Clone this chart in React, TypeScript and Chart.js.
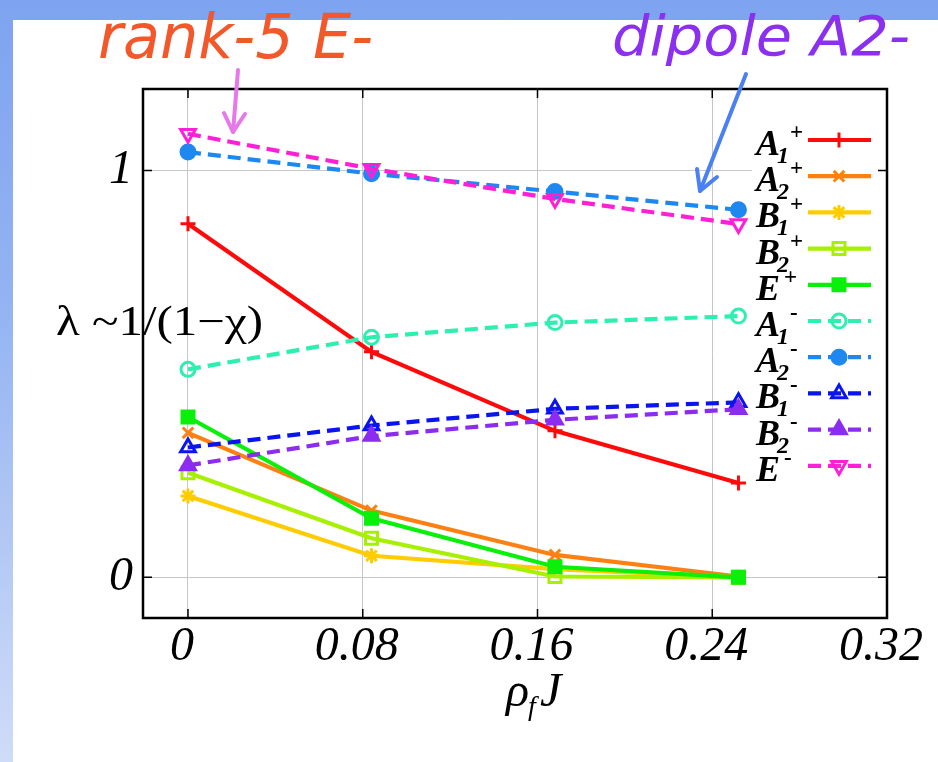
import React, { useEffect, useRef } from "react";
import { Chart, registerables } from "chart.js";
import { drawPoint } from "chart.js/helpers";

Chart.register(...registerables);

// Coupling values ρ_f J at which the spectra were computed
const X_VALUES = [0, 0.084, 0.168, 0.252];

// Leading eigenvalue of each channel
const A1_PLUS = [0.869, 0.554, 0.36, 0.232];
const A2_PLUS = [0.355, 0.164, 0.055, 0.002];
const B1_PLUS = [0.2, 0.053, 0.02, 0];
const B2_PLUS = [0.257, 0.096, 0.002, 0];
const E_PLUS = [0.394, 0.145, 0.026, 0];
const A1_MINUS = [0.511, 0.59, 0.626, 0.642];
const A2_MINUS = [1.045, 0.992, 0.948, 0.903];
const B1_MINUS = [0.319, 0.373, 0.414, 0.43];
const B2_MINUS = [0.275, 0.347, 0.387, 0.413];
const E_MINUS = [1.09, 1.004, 0.93, 0.868];

const X_TICKS = [0, 0.08, 0.16, 0.24, 0.32];
const X_TICK_LABELS = ["0", "0.08", "0.16", "0.24", "0.32"];
const Y_TICKS = [0, 1];
const Y_TICK_LABELS = ["0", "1"];

const X_MIN = -0.0206;
const X_MAX = 0.32;
const Y_MIN = -0.1;
const Y_MAX = 1.2;

type Series = {
  base: string;
  sub: string;
  sup: string;
  values: number[];
  color: string;
  style: string;
  filled: boolean;
  dashed: boolean;
  rotation: number;
  radius: number;
};

const SERIES: Series[] = [
  { base: "A", sub: "1", sup: "+", values: A1_PLUS, color: "#ff0a0a", style: "cross", filled: false, dashed: false, rotation: 0, radius: 7.5 },
  { base: "A", sub: "2", sup: "+", values: A2_PLUS, color: "#ff8012", style: "crossRot", filled: false, dashed: false, rotation: 0, radius: 7.5 },
  { base: "B", sub: "1", sup: "+", values: B1_PLUS, color: "#ffcc00", style: "star", filled: false, dashed: false, rotation: 0, radius: 7.5 },
  { base: "B", sub: "2", sup: "+", values: B2_PLUS, color: "#a6f000", style: "rect", filled: false, dashed: false, rotation: 0, radius: 8.5 },
  { base: "E", sub: "", sup: "+", values: E_PLUS, color: "#0af00a", style: "rect", filled: true, dashed: false, rotation: 0, radius: 8.5 },
  { base: "A", sub: "1", sup: "-", values: A1_MINUS, color: "#2cf0b0", style: "circle", filled: false, dashed: true, rotation: 0, radius: 7 },
  { base: "A", sub: "2", sup: "-", values: A2_MINUS, color: "#1e88f0", style: "circle", filled: true, dashed: true, rotation: 0, radius: 7 },
  { base: "B", sub: "1", sup: "-", values: B1_MINUS, color: "#0a14f0", style: "triangle", filled: false, dashed: true, rotation: 0, radius: 8.5 },
  { base: "B", sub: "2", sup: "-", values: B2_MINUS, color: "#8c2cf0", style: "triangle", filled: true, dashed: true, rotation: 0, radius: 8.5 },
  { base: "E", sub: "", sup: "-", values: E_MINUS, color: "#ff1fd6", style: "triangle", filled: false, dashed: true, rotation: 180, radius: 8.5 },
];

const LINE_WIDTH = 4.2;
const POINT_WIDTH = 3;
const DASH = [13, 7];
const SERIF = '"Liberation Serif", "Times New Roman", serif';
const HAND = '"DejaVu Sans", sans-serif';

function drawLegendLabel(ctx: CanvasRenderingContext2D, s: Series, x: number, baseline: number) {
  ctx.fillStyle = "#000";
  ctx.textAlign = "left";
  ctx.textBaseline = "alphabetic";
  ctx.font = `italic bold 36px ${SERIF}`;
  ctx.fillText(s.base, x, baseline);
  const w = ctx.measureText(s.base).width;
  if (s.sub) {
    ctx.font = `italic bold 24px ${SERIF}`;
    ctx.fillText(s.sub, x + w - 3, baseline + 8);
  }
  ctx.font = `bold 23px ${SERIF}`;
  ctx.fillText(s.sup, x + w + (s.sub ? 10 : 4), baseline - 16);
}

function fitText(ctx: CanvasRenderingContext2D, text: string, x: number, baseline: number, width: number) {
  const m = ctx.measureText(text).width;
  ctx.save();
  ctx.translate(x, baseline);
  ctx.scale(width / m, 1);
  ctx.fillText(text, 0, 0);
  ctx.restore();
}

function arrow(ctx: CanvasRenderingContext2D, color: string, pts: number[][], wings: number[][]) {
  ctx.save();
  ctx.strokeStyle = color;
  ctx.lineWidth = 4;
  ctx.lineCap = "round";
  ctx.lineJoin = "round";
  ctx.setLineDash([]);
  ctx.beginPath();
  ctx.moveTo(pts[0][0], pts[0][1]);
  ctx.lineTo(pts[1][0], pts[1][1]);
  ctx.stroke();
  ctx.beginPath();
  ctx.moveTo(wings[0][0], wings[0][1]);
  ctx.lineTo(pts[1][0], pts[1][1]);
  ctx.lineTo(wings[1][0], wings[1][1]);
  ctx.stroke();
  ctx.restore();
}

const decorations = {
  id: "decorations",
  afterDraw(chart: Chart) {
    const ctx = chart.ctx;
    const { left, right, top, bottom } = chart.chartArea;
    const xs = chart.scales.x;
    const ys = chart.scales.y;
    ctx.save();
    ctx.setLineDash([]);

    // opaque key box
    ctx.fillStyle = "#fff";
    ctx.fillRect(752, 122, 126, 362);

    // inward tick marks
    ctx.strokeStyle = "#000";
    ctx.lineWidth = 1.5;
    ctx.beginPath();
    X_TICKS.forEach((v) => {
      const px = xs.getPixelForValue(v);
      ctx.moveTo(px, top);
      ctx.lineTo(px, top + 9);
      ctx.moveTo(px, bottom);
      ctx.lineTo(px, bottom - 9);
    });
    Y_TICKS.forEach((v) => {
      const py = ys.getPixelForValue(v);
      ctx.moveTo(left, py);
      ctx.lineTo(left + 9, py);
      ctx.moveTo(right, py);
      ctx.lineTo(right - 9, py);
    });
    ctx.stroke();

    // frame
    ctx.lineWidth = 2.5;
    ctx.strokeRect(left, top, right - left, bottom - top);

    // key
    const keyTop = 140;
    const keyStep = 36.2;
    SERIES.forEach((s, i) => {
      const y = keyTop + i * keyStep;
      ctx.save();
      ctx.strokeStyle = s.color;
      ctx.lineWidth = LINE_WIDTH;
      ctx.setLineDash(s.dashed ? DASH : []);
      ctx.beginPath();
      ctx.moveTo(808, y);
      ctx.lineTo(871, y);
      ctx.stroke();
      ctx.setLineDash([]);
      ctx.lineWidth = POINT_WIDTH;
      ctx.fillStyle = s.filled ? s.color : "rgba(0,0,0,0)";
      drawPoint(ctx, { pointStyle: s.style as any, rotation: s.rotation, radius: s.radius, borderWidth: POINT_WIDTH }, 839, y);
      ctx.restore();
      drawLegendLabel(ctx, s, 756, y + 15);
    });

    // y quantity label
    ctx.fillStyle = "#000";
    ctx.font = `42px ${SERIF}`;
    ctx.textBaseline = "alphabetic";
    fitText(ctx, "\u03BB ~1/(1\u2212\u03C7)", 56, 335, 207);

    // x quantity label
    ctx.font = `italic 48px ${SERIF}`;
    const rho = "\u03C1";
    const rw = ctx.measureText(rho).width;
    ctx.fillText(rho, 506, 706);
    ctx.font = `italic 28px ${SERIF}`;
    ctx.fillText("f", 506 + rw - 1, 715);
    ctx.font = `italic 48px ${SERIF}`;
    ctx.fillText("J", 506 + rw + 11, 706);

    // annotations
    ctx.font = `oblique 62px ${HAND}`;
    ctx.fillStyle = "#f2582a";
    fitText(ctx, "rank-5 E-", 98, 58, 275);
    ctx.font = `oblique 56px ${HAND}`;
    ctx.fillStyle = "#8b2ff0";
    fitText(ctx, "dipole A2-", 612, 55, 298);

    arrow(ctx, "#e678ea", [[238, 70], [233, 132]], [[224, 113], [245, 114]]);
    arrow(ctx, "#4a80f2", [[746, 74], [700, 191]], [[697, 169], [717, 177]]);

    ctx.restore();
  },
};

export default function App() {
  const ref = useRef<HTMLCanvasElement>(null);

  useEffect(() => {
    const canvas = ref.current;
    if (!canvas) return;
    const chart = new Chart(canvas, {
      type: "line",
      data: {
        datasets: SERIES.map((s, i) => ({
          label: s.base + s.sub + s.sup,
          data: X_VALUES.map((x, j) => ({ x, y: s.values[j] })),
          borderColor: s.color,
          borderWidth: LINE_WIDTH,
          borderDash: s.dashed ? DASH : [],
          tension: 0,
          fill: false,
          pointStyle: s.style as any,
          pointRadius: s.radius,
          pointRotation: s.rotation,
          pointBorderWidth: POINT_WIDTH,
          pointBorderColor: s.color,
          pointBackgroundColor: s.filled ? s.color : "rgba(0,0,0,0)",
          order: SERIES.length - i,
          clip: false as any,
        })),
      },
      options: {
        animation: false,
        responsive: false,
        layout: { padding: { left: 0, right: 51, top: 89, bottom: 0 } },
        plugins: { legend: { display: false }, tooltip: { enabled: false } },
        scales: {
          x: {
            type: "linear",
            min: X_MIN,
            max: X_MAX,
            afterBuildTicks: (s: any) => {
              s.ticks = X_TICKS.map((v) => ({ value: v }));
            },
            afterFit: (s: any) => {
              s.height = 144;
            },
            grid: { color: "#c6c6c6", lineWidth: 1, drawTicks: false },
            border: { display: false },
            ticks: {
              callback: (v: any) => X_TICK_LABELS[X_TICKS.indexOf(Number(v))],
              font: { family: SERIF, style: "italic", size: 48 },
              color: "#000",
              padding: 1,
              labelOffset: -6,
              maxRotation: 0,
              autoSkip: false,
            },
          },
          y: {
            type: "linear",
            min: Y_MIN,
            max: Y_MAX,
            afterBuildTicks: (s: any) => {
              s.ticks = Y_TICKS.map((v) => ({ value: v }));
            },
            afterFit: (s: any) => {
              s.width = 143;
            },
            grid: { color: "#c6c6c6", lineWidth: 1, drawTicks: false },
            border: { display: false },
            ticks: {
              callback: (v: any) => Y_TICK_LABELS[Y_TICKS.indexOf(Number(v))],
              font: { family: SERIF, style: "italic", size: 48 },
              color: "#000",
              padding: 10,
              autoSkip: false,
            },
          },
        },
      },
      plugins: [decorations],
    });
    return () => chart.destroy();
  }, []);

  return (
    <div
      style={{
        position: "fixed",
        left: 0,
        top: 0,
        width: 938,
        height: 762,
        background: "linear-gradient(to bottom, #7ea3f0 0%, #93b3f2 40%, #b6cbf5 75%, #cfdcf8 100%)",
        overflow: "hidden",
      }}
    >
      <div style={{ position: "absolute", left: 13, top: 20, right: 0, bottom: 0, background: "#fff" }} />
      <canvas
        ref={ref}
        width={938}
        height={762}
        style={{ position: "absolute", left: 0, top: 0, width: 938, height: 762, display: "block" }}
      />
    </div>
  );
}
